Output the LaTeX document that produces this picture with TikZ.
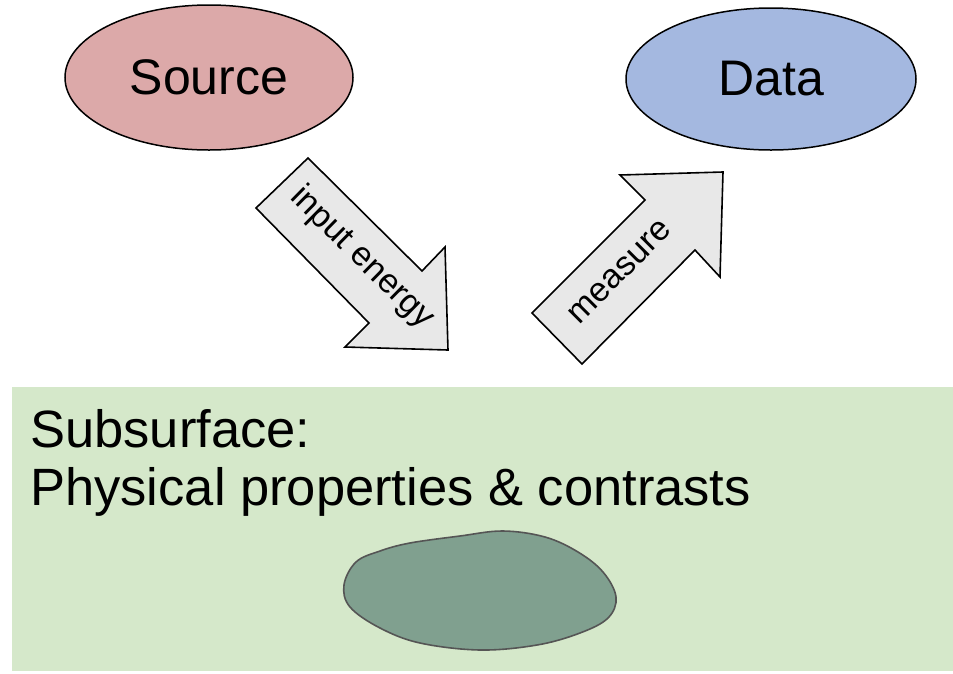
\documentclass[tikz,border=0pt]{standalone}
\usepackage{fontspec}
\setmainfont{Liberation Sans}
\usetikzlibrary{shapes.geometric}
\definecolor{srcfill}{RGB}{220,169,169}
\definecolor{datafill}{RGB}{164,184,224}
\definecolor{subfill}{RGB}{213,232,202}
\definecolor{blobfill}{RGB}{128,160,143}
\definecolor{blobline}{RGB}{85,85,85}
\definecolor{arrowfill}{RGB}{232,232,232}
\tikzset{
  oval/.style={ellipse, draw=black, line width=1.5pt, inner sep=0pt,
    font=\fontsize{50}{60}\selectfont},
  blockarrow/.style={draw=black, fill=arrowfill, line width=1.6pt, line join=miter},
  arrowlabel/.style={font=\fontsize{34}{40}\selectfont, inner sep=0pt},
  bigtext/.style={font=\fontsize{52.5}{60}\selectfont, anchor=base west, inner sep=0pt}
}
\begin{document}
\begin{tikzpicture}[x=1pt, y=-1pt]
\useasboundingbox (0,0) rectangle (953,673);
% subsurface box
\fill[subfill] (12,387) rectangle (953,671);
\node[bigtext] (sub1) at (30,447) {Subsurface:};
\node[bigtext] (sub2) at (30,505) {Physical properties \& contrasts};
% blob
\draw[fill=blobfill, draw=blobline, line width=1.6pt]
  plot[smooth cycle, tension=0.6] coordinates {
  (344,585) (356,562) (380,551) (410,543) (460,536) (503,531) (545,537)
  (578,552) (603,572) (616,597) (608,618) (580,633) (537,645) (480,650)
  (420,643) (380,628) (350,607)};
% ellipses
\node[oval, fill=srcfill, minimum width=288pt, minimum height=145pt] (src) at (209,77.5) {Source};
\node[oval, fill=datafill, minimum width=290pt, minimum height=142pt] (data) at (771,79) {Data};
% block arrows
\draw[blockarrow] (256,208) -- (308,158) -- (422,271) -- (445,247) -- (448,350)
  -- (345,347) -- (369,323) -- cycle;
\node[arrowlabel, rotate=-44.5] (inlab) at (362,258) {input energy};
\draw[blockarrow] (532,313) -- (645,200) -- (620,175) -- (723,172) -- (720,277)
  -- (695,250) -- (582,364) -- cycle;
\node[arrowlabel, rotate=45] (measlab) at (620,272) {measure};
\end{tikzpicture}
\end{document}
